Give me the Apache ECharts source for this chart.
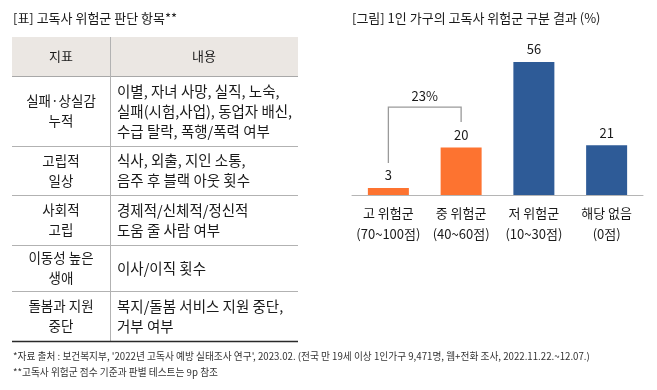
<!DOCTYPE html>
<html>
<head>
<meta charset="utf-8">
<script src="https://cdn.jsdelivr.net/npm/echarts@6/dist/echarts.min.js"></script>
<style>
html,body{margin:0;padding:0;background:#fff;}
#main{width:657px;height:390px;}
</style>
</head>
<body>
<div id="main"></div>
<script>
// ---- data ----
const tableTitle = '[표] 고독사 위험군 판단 항목**';
const tableHeaders = ['지표', '내용'];
const indicators = [
  ['실패·상실감', '누적'],
  ['고립적', '일상'],
  ['사회적', '고립'],
  ['이동성 높은', '생애'],
  ['돌봄과 지원', '중단']
];
const contents = [
  ['이별, 자녀 사망, 실직, 노숙,', '실패(시험,사업), 동업자 배신,', '수급 탈락, 폭행/폭력 여부'],
  ['식사, 외출, 지인 소통,', '음주 후 블랙 아웃 횟수'],
  ['경제적/신체적/정신적', '도움 줄 사람 여부'],
  ['이사/이직 횟수'],
  ['복지/돌봄 서비스 지원 중단,', '거부 여부']
];
const chartTitle = '[그림] 1인 가구의 고독사 위험군 구분 결과 (%)';
const categories = ['고 위험군\n(70~100점)', '중 위험군\n(40~60점)', '저 위험군\n(10~30점)', '해당 없음\n(0점)'];
const values = [3, 20, 56, 21];
const bracketLabel = '23%';
const footnotes = [
  "*자료 출처 : 보건복지부, '2022년 고독사 예방 실태조사 연구', 2023.02. (전국 만 19세 이상 1인가구 9,471명, 웹+전화 조사, 2022.11.22.~12.07.)",
  '**고독사 위험군 점수 기준과 판별 테스트는 9p 참조'
];

// ---- styles / layout ----
const barColors = ['#fd7330', '#fd7330', '#2e5b97', '#2e5b97'];
const FONT = '"Noto Sans CJK KR", "Noto Sans", sans-serif';
const TXT = '#1a1a1a';
const T = { left: 12, right: 298, split: 110, top: 37, headH: 39, rowH: [70, 49, 50, 46, 50], lh: 20 };

const graphics = [];
function text(t, x, y, opt) {
  graphics.push(Object.assign({
    type: 'text', silent: true,
    style: Object.assign({ text: t, x: x, y: y, fill: TXT, fontSize: 13, fontFamily: FONT,
      align: 'left', verticalAlign: 'middle', lineHeight: T.lh }, opt || {})
  }));
}
function line(x1, y1, x2, y2, stroke, w) {
  graphics.push({ type: 'line', silent: true, shape: { x1, y1, x2, y2 }, style: { stroke, lineWidth: w || 1 } });
}

// titles
text(tableTitle, 13, 18);
text(chartTitle, 352, 18);

// table header
graphics.push({ type: 'rect', silent: true, shape: { x: T.left, y: T.top, width: T.right - T.left, height: T.headH }, style: { fill: '#ebe7e3' } });
const hy = T.top + T.headH;
line(T.left, hy + 0.5, T.right, hy + 0.5, '#a8a8a8', 1);
text(tableHeaders[0], (T.left + T.split) / 2, T.top + T.headH / 2, { align: 'center' });
text(tableHeaders[1], (T.split + T.right) / 2, T.top + T.headH / 2, { align: 'center' });

let y = hy;
for (let i = 0; i < indicators.length; i++) {
  const h = T.rowH[i];
  const cy = y + h / 2;
  text(indicators[i].join('\n'), (T.left + T.split) / 2, cy, { align: 'center', fontSize: 13.5 });
  text(contents[i].join('\n'), T.split + 7, cy, { align: 'left', fontSize: 14.5 });
  y += h;
  if (i < indicators.length - 1) line(T.left, Math.round(y) + 0.5, T.right, Math.round(y) + 0.5, '#b2b2b2', 1);
}
line(T.split + 0.5, T.top, T.split + 0.5, y, '#b2b2b2', 1);
line(T.left, y + 0.5, T.right, y + 0.5, '#2a2a2a', 1.5);

// footnotes
text(footnotes[0], 13, 356, { fontSize: 9.7, fill: '#333' });
text(footnotes[1], 13, 372, { fontSize: 9.7, fill: '#333' });

// bracket positions in value units
const bracket = { from: 0, to: 1, top: 37, fromBottom: 13.5, toBottom: 30.7 };

const chart = echarts.init(document.getElementById('main'));
chart.setOption({
  animation: false,
  backgroundColor: '#fff',
  grid: { left: 352, right: 14, top: 52.5, bottom: 195 },
  xAxis: {
    type: 'category', data: categories,
    axisLine: { lineStyle: { color: '#b5b5b5', width: 1 } },
    axisTick: { show: false },
    axisLabel: { color: TXT, fontSize: 13, fontFamily: FONT, lineHeight: 21, margin: 8, interval: 0 }
  },
  yAxis: { type: 'value', min: 0, max: 60, show: false, splitLine: { show: false } },
  graphic: graphics,
  series: [
    {
      type: 'bar', data: values, barWidth: 41,
      itemStyle: { color: p => barColors[p.dataIndex] },
      label: { show: true, position: 'top', distance: 6, color: TXT, fontSize: 13, fontFamily: FONT }
    },
    {
      type: 'custom', silent: true, z: 5,
      data: [[bracket.from, bracket.to]],
      renderItem: function (params, api) {
        const a = api.coord([bracket.from, bracket.fromBottom]);
        const at = api.coord([bracket.from, bracket.top]);
        const b = api.coord([bracket.to, bracket.toBottom]);
        const bt = api.coord([bracket.to, bracket.top]);
        return {
          type: 'group',
          children: [
            { type: 'polyline', shape: { points: [a, at, bt, b] }, style: { stroke: '#9a9a9a', lineWidth: 1.3, fill: null } },
            { type: 'text', style: { text: bracketLabel, x: (at[0] + bt[0]) / 2, y: at[1] - 11, align: 'center', verticalAlign: 'middle', fill: TXT, fontSize: 13, fontFamily: FONT } }
          ]
        };
      }
    }
  ]
});
</script>
</body>
</html>
